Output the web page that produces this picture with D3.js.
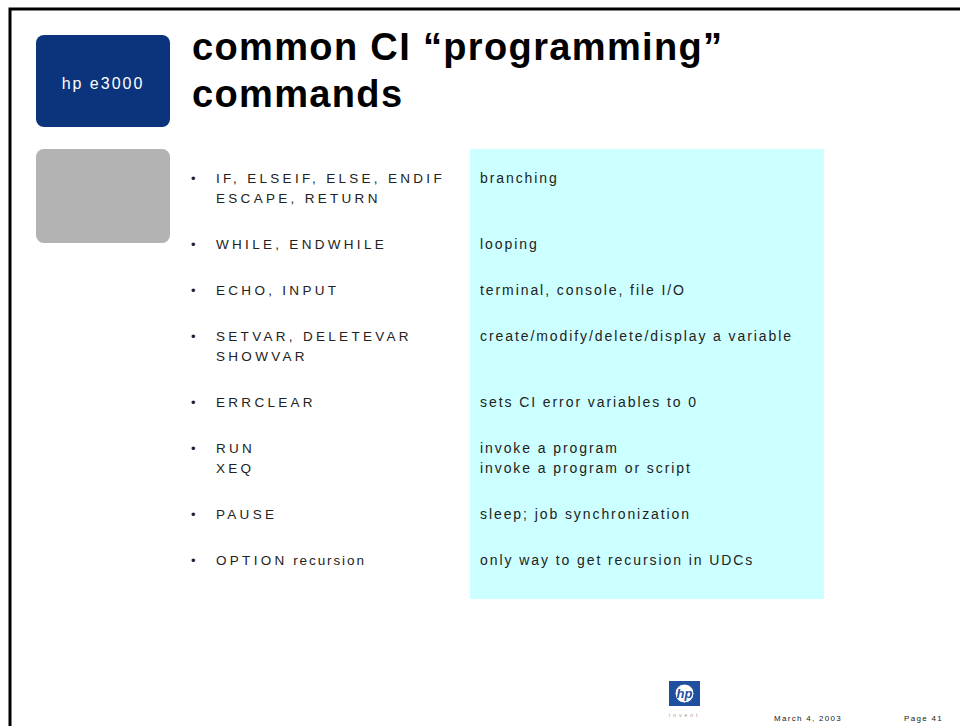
<!DOCTYPE html>
<html>
<head>
<meta charset="utf-8">
<script src="https://cdn.jsdelivr.net/npm/d3@7"></script>
<style>
  html, body { margin: 0; padding: 0; background: #fff; }
  svg { display: block; }
</style>
</head>
<body>
<svg id="slide" width="960" height="726"></svg>
<script>
// ---- content ----
const titleLines = ["common CI \u201Cprogramming\u201D", "commands"];
const badgeLabel = "hp e3000";
const commands = [
  ["IF, ELSEIF, ELSE, ENDIF", "ESCAPE, RETURN"],
  ["WHILE, ENDWHILE"],
  ["ECHO, INPUT"],
  ["SETVAR, DELETEVAR", "SHOWVAR"],
  ["ERRCLEAR"],
  ["RUN", "XEQ"],
  ["PAUSE"],
  ["OPTION recursion"]
];
const descriptions = [
  ["branching"],
  ["looping"],
  ["terminal, console, file I/O"],
  ["create/modify/delete/display a variable"],
  ["sets CI error variables to 0"],
  ["invoke a program", "invoke a program or script"],
  ["sleep; job synchronization"],
  ["only way to get recursion in UDCs"]
];
const footerDate = "March 4, 2003";
const footerPage = "Page 41";

// ---- drawing ----
const svg = d3.select("#slide");
const sans = "'Liberation Sans', Arial, Helvetica, sans-serif";

// slide frame
svg.append("rect").attr("x", 10).attr("y", 9).attr("width", 1000).attr("height", 800)
  .attr("fill", "none").attr("stroke", "#000").attr("stroke-width", 3);

// badge boxes
svg.append("rect").attr("x", 36).attr("y", 35).attr("width", 134).attr("height", 92)
  .attr("rx", 8).attr("fill", "#0c347c");
svg.append("text").attr("x", 103).attr("y", 89).attr("text-anchor", "middle")
  .attr("font-family", sans).attr("font-size", 16).attr("letter-spacing", 2)
  .attr("fill", "#fff").text(badgeLabel);
svg.append("rect").attr("x", 36).attr("y", 149).attr("width", 134).attr("height", 94)
  .attr("rx", 8).attr("fill", "#b3b3b3");

// title
svg.append("g").selectAll("text").data(titleLines).join("text")
  .attr("x", 192).attr("y", (d, i) => 60 + i * 47)
  .attr("font-family", sans).attr("font-weight", "bold").attr("font-size", 38)
  .attr("letter-spacing", 1.35)
  .attr("fill", "#000").text(d => d);

// cyan panel
svg.append("rect").attr("x", 470).attr("y", 149).attr("width", 354).attr("height", 450)
  .attr("fill", "#ccffff");

// row positions: each item is one spacing unit, plus one line for every extra line
const lineCount = commands.map((c, i) => Math.max(c.length, descriptions[i].length));
const extraLines = [0, ...d3.cumsum(lineCount.map(n => n - 1))].slice(0, commands.length);
const itemY = d3.scaleLinear().domain([0, 1]).range([183, 229]);
const lineY = d3.scaleLinear().domain([0, 1]).range([0, 20]);
const rowY = i => itemY(i) + lineY(extraLines[i]);

const rows = svg.append("g").selectAll("g").data(commands).join("g")
  .attr("transform", (d, i) => `translate(0,${rowY(i)})`);

rows.append("text").attr("x", 191).attr("y", 0)
  .attr("font-family", sans).attr("font-size", 13).attr("fill", "#222").text("\u2022");

rows.append("g").selectAll("text").data(d => d).join("text")
  .attr("x", 216).attr("y", (d, j) => lineY(j))
  .attr("font-family", sans).attr("font-size", 13.5).attr("fill", "#222")
  .attr("letter-spacing", 3.3)
  .each(function(d) {
    const t = d3.select(this);
    const m = d.match(/^([A-Z ,]+?)( [a-z].*)?$/);
    if (m && m[2]) {
      t.append("tspan").text(m[1]);
      t.append("tspan").attr("letter-spacing", 1.9).text(m[2]);
    } else {
      t.text(d);
    }
  });

const drows = svg.append("g").selectAll("g").data(descriptions).join("g")
  .attr("transform", (d, i) => `translate(0,${rowY(i)})`);
drows.selectAll("text").data(d => d).join("text")
  .attr("x", 480).attr("y", (d, j) => lineY(j))
  .attr("font-family", sans).attr("font-size", 14).attr("fill", "#222")
  .attr("letter-spacing", 1.92).text(d => d);

// hp logo
const logo = svg.append("g").attr("transform", "translate(669,681)");
logo.append("rect").attr("width", 31).attr("height", 25).attr("fill", "#1f4f9f");
logo.append("circle").attr("cx", 15.5).attr("cy", 12.5).attr("r", 9.5)
  .attr("fill", "#fff").attr("stroke", "#1f4f9f").attr("stroke-width", 1);
logo.append("text").attr("x", 15.5).attr("y", 17).attr("text-anchor", "middle")
  .attr("font-family", sans).attr("font-style", "italic").attr("font-weight", "bold")
  .attr("font-size", 13).attr("fill", "#1f4f9f").text("hp");
logo.append("text").attr("x", 0).attr("y", 36)
  .attr("font-family", sans).attr("font-size", 5).attr("letter-spacing", 3)
  .attr("fill", "#999").text("invent");

// footer
svg.append("text").attr("x", 774).attr("y", 721)
  .attr("font-family", sans).attr("font-size", 8).attr("letter-spacing", 1.3)
  .attr("fill", "#222").text(footerDate);
svg.append("text").attr("x", 904).attr("y", 721)
  .attr("font-family", sans).attr("font-size", 8).attr("letter-spacing", 1.3)
  .attr("fill", "#222").text(footerPage);
</script>
</body>
</html>
